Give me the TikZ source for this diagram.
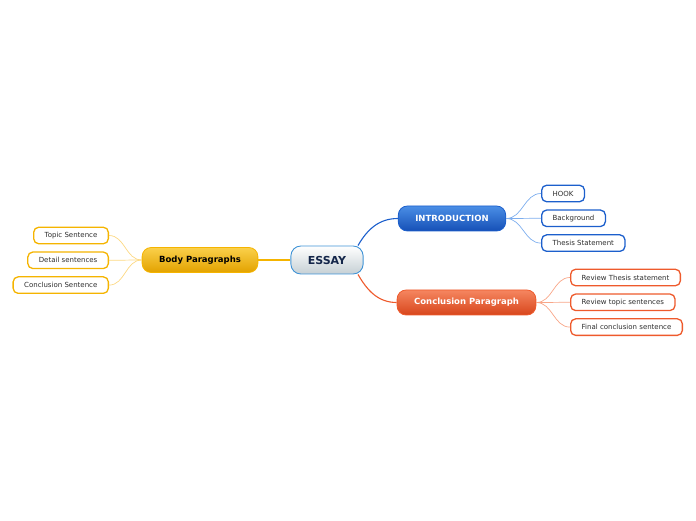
\documentclass[tikz,border=0pt]{standalone}
\usepackage{fontspec}
\setmainfont{DejaVu Sans}
\usetikzlibrary{positioning}

\definecolor{essayedge}{HTML}{3F93D6}
\definecolor{essaytext}{HTML}{14264A}
\definecolor{essaybot}{HTML}{C6D0D5}
\definecolor{bluetop}{HTML}{4A8EE6}
\definecolor{bluebot}{HTML}{1650B6}
\definecolor{blueedge}{HTML}{1C5FCC}
\definecolor{bluelight}{HTML}{7EAEEE}
\definecolor{redtop}{HTML}{F58660}
\definecolor{redbot}{HTML}{D8461C}
\definecolor{rededge}{HTML}{EE5A2C}
\definecolor{redlight}{HTML}{F8A688}
\definecolor{yeltop}{HTML}{FAD04A}
\definecolor{yelbot}{HTML}{E3A200}
\definecolor{yeledge}{HTML}{F5B400}
\definecolor{yellight}{HTML}{FCD882}
\definecolor{subtext}{HTML}{2E2E2E}

\begin{document}
\begin{tikzpicture}[
  x=1pt, y=1pt,
  node distance=7pt,
  centre/.style={draw=essayedge, line width=0.9pt, rounded corners=10pt, top color=white, bottom color=essaybot, text=essaytext, font=\fontsize{11}{13}\selectfont\bfseries, inner xsep=17pt, minimum height=28pt},
  mainbox/.style={line width=0.8pt, rounded corners=9pt, text=white, font=\fontsize{8.5}{10}\selectfont\bfseries, inner xsep=17pt, minimum height=25pt},
  subbox/.style={line width=1.3pt, rounded corners=5pt, fill=white, text=subtext, font=\fontsize{7}{8}\selectfont, inner xsep=11pt, inner ysep=0pt, minimum height=16.5pt},
  mainlink/.style={line width=1.1pt},
  sublink/.style={line width=0.7pt}
]
\useasboundingbox (0,0) rectangle (696,520);

% main branches
\node[centre] (essay) at (327,260) {ESSAY};
\node[mainbox, draw=blueedge, top color=bluetop, bottom color=bluebot] (intro) at (452,301.5) {INTRODUCTION};
\node[mainbox, draw=rededge, top color=redtop, bottom color=redbot] (concl) at (466.5,217.5) {Conclusion Paragraph};
\node[mainbox, draw=yeledge, top color=yeltop, bottom color=yelbot, text=black] (body) at (200,260) {Body Paragraphs};

% introduction
\node[subbox, draw=blueedge, anchor=west] (hook) at (541,326.5) {HOOK};
\node[subbox, draw=blueedge, below=of hook.south west, anchor=north west] (background) {Background};
\node[subbox, draw=blueedge, below=of background.south west, anchor=north west] (thesis) {Thesis Statement};

% conclusion
\node[subbox, draw=rededge, anchor=west] (reviewthesis) at (570,242.5) {Review Thesis statement};
\node[subbox, draw=rededge, below=of reviewthesis.south west, anchor=north west] (reviewtopic) {Review topic sentences};
\node[subbox, draw=rededge, below=of reviewtopic.south west, anchor=north west] (finalsent) {Final conclusion sentence};

% body
\node[subbox, draw=yeledge, anchor=east] (topicsent) at (109,284.5) {Topic Sentence};
\node[subbox, draw=yeledge, below=of topicsent.south east, anchor=north east] (detail) {Detail sentences};
\node[subbox, draw=yeledge, below=of detail.south east, anchor=north east] (conclsent) {Conclusion Sentence};

\draw[mainlink, blueedge] (essay.25) to[out=60, in=180] (intro.west);
\draw[mainlink, rededge] (essay.-25) to[out=-60, in=180] (concl.west);
\draw[mainlink, yeledge] (essay.west) -- (body.east);

\foreach \kid in {hook, background, thesis}
  \draw[sublink, bluelight] (intro.east) to[out=0, in=180] (\kid.west);
\foreach \kid in {reviewthesis, reviewtopic, finalsent}
  \draw[sublink, redlight] (concl.east) to[out=0, in=180] (\kid.west);
\foreach \kid in {topicsent, detail, conclsent}
  \draw[sublink, yellight] (body.west) to[out=180, in=0] (\kid.east);
\end{tikzpicture}
\end{document}
